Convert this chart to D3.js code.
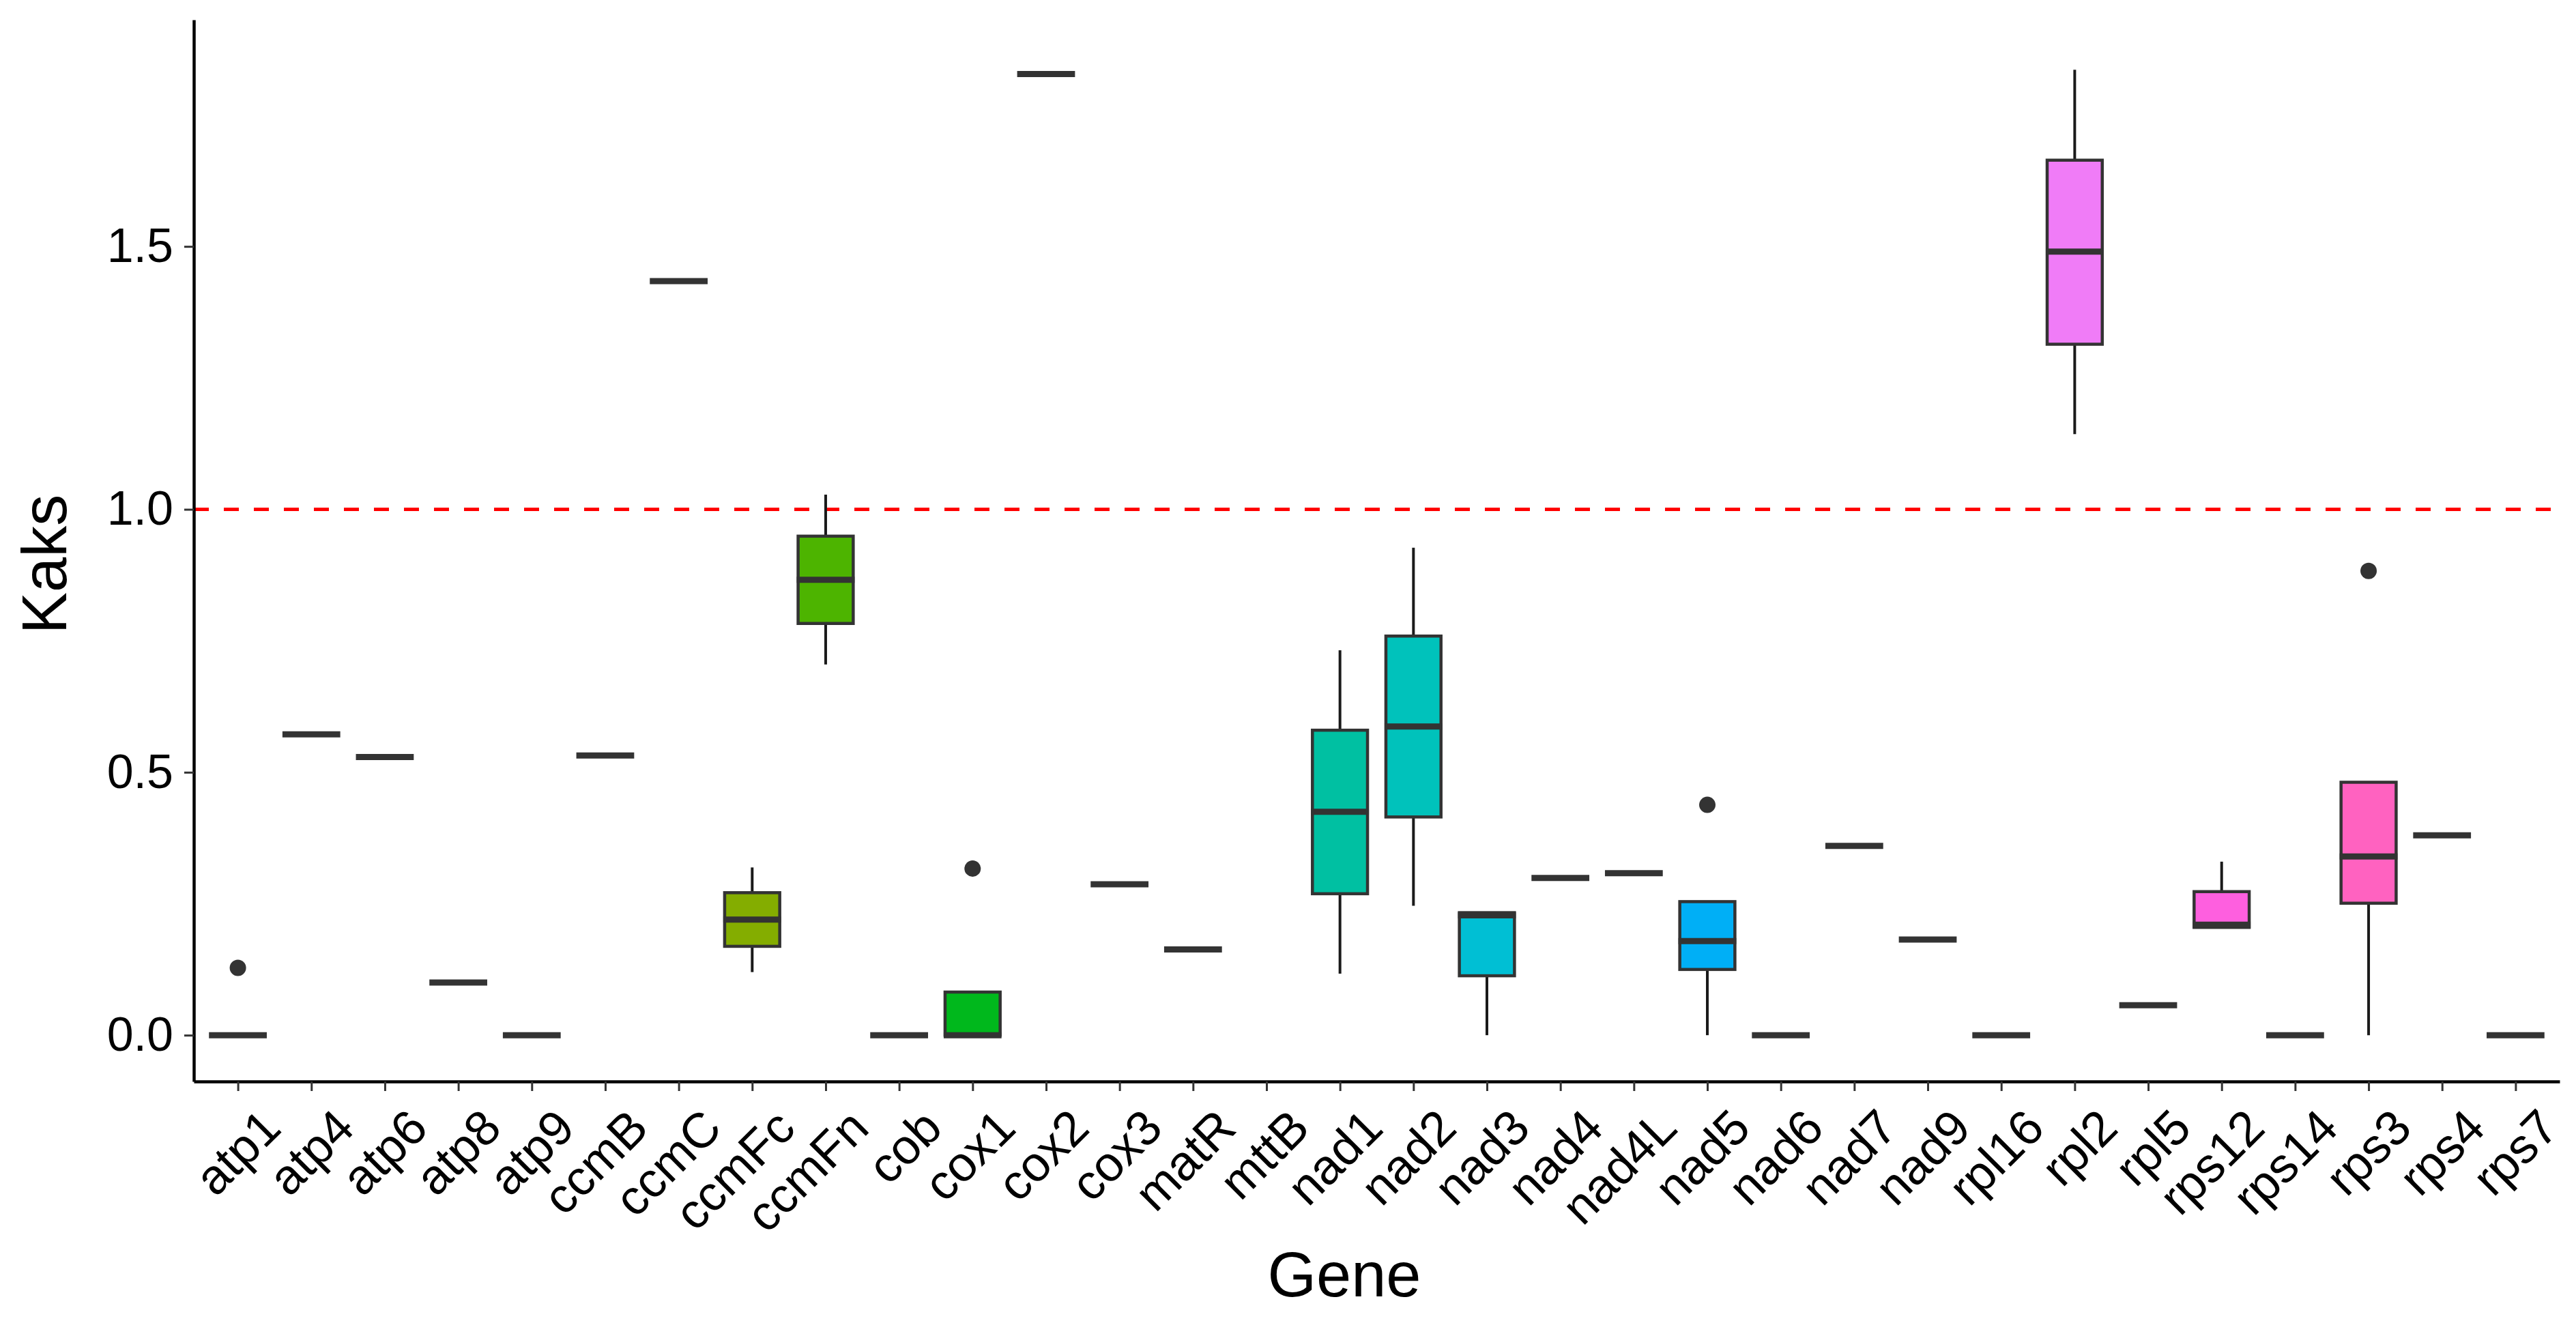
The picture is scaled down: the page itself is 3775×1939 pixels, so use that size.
<!DOCTYPE html>
<html>
<head>
<meta charset="utf-8">
<script src="https://cdn.jsdelivr.net/npm/d3@7"></script>
<style>
  body { margin: 0; background: #fff; }
  text { font-family: "Liberation Sans", Arial, sans-serif; }
</style>
</head>
<body>
<div class="chart"></div>
<script>
// box stats (null = gene has no value)
var genes = ['atp1', 'atp4', 'atp6', 'atp8', 'atp9', 'ccmB', 'ccmC', 'ccmFc', 'ccmFn', 'cob',
  'cox1', 'cox2', 'cox3', 'matR', 'mttB', 'nad1', 'nad2', 'nad3', 'nad4', 'nad4L',
  'nad5', 'nad6', 'nad7', 'nad9', 'rpl16', 'rpl2', 'rpl5', 'rps12', 'rps14', 'rps3', 'rps4', 'rps7'];

var lower  = [0, 0.572, 0.529, 0.100, 0, 0.532, 1.434, 0.120, 0.705, 0,
  0, 1.828, 0.287, 0.163, null, 0.117, 0.246, 0, 0.299, 0.308,
  0, 0, 0.360, 0.182, 0, 1.143, 0.057, 0.205, 0, 0, 0.380, 0];
var q1     = [0, 0.572, 0.529, 0.100, 0, 0.532, 1.434, 0.169, 0.783, 0,
  0, 1.828, 0.287, 0.163, null, 0.269, 0.415, 0.113, 0.299, 0.308,
  0.125, 0, 0.360, 0.182, 0, 1.314, 0.057, 0.205, 0, 0.251, 0.380, 0];
var median = [0, 0.572, 0.529, 0.100, 0, 0.532, 1.434, 0.220, 0.866, 0,
  0, 1.828, 0.287, 0.163, null, 0.425, 0.587, 0.228, 0.299, 0.308,
  0.179, 0, 0.360, 0.182, 0, 1.490, 0.057, 0.210, 0, 0.340, 0.380, 0];
var q3     = [0, 0.572, 0.529, 0.100, 0, 0.532, 1.434, 0.271, 0.949, 0,
  0.082, 1.828, 0.287, 0.163, null, 0.580, 0.759, 0.233, 0.299, 0.308,
  0.254, 0, 0.360, 0.182, 0, 1.664, 0.057, 0.273, 0, 0.481, 0.380, 0];
var upper  = [0, 0.572, 0.529, 0.100, 0, 0.532, 1.434, 0.319, 1.028, 0,
  0.082, 1.828, 0.287, 0.163, null, 0.732, 0.927, 0.233, 0.299, 0.308,
  0.254, 0, 0.360, 0.182, 0, 1.836, 0.057, 0.330, 0, 0.481, 0.380, 0];

var outlierGenes  = ['atp1', 'cox1', 'nad5', 'rps3'];
var outlierValues = [0.128, 0.317, 0.438, 0.883];

var yTicks = [0, 0.5, 1.0, 1.5];
var threshold = 1;

var fills = {
  ccmFc: '#84ad00', ccmFn: '#4db400', cox1: '#00b81c', nad1: '#00c0a2',
  nad2: '#00c2bb', nad3: '#00bfd4', nad5: '#00aff6', rpl2: '#f07cf7',
  rps12: '#fe5fdf', rps3: '#ff62c0'
};

var w = 3775, h = 1939;
var mLeft = 284, mRight = 3751, mTop = 29, mBottom = 1585;

var svg = d3.select('.chart').append('svg')
  .attr('width', w)
  .attr('height', h);

var x = d3.scalePoint()
  .domain(genes)
  .range([mLeft, mRight])
  .padding(0.6);

var y = d3.scaleLinear()
  .domain([-0.088, 1.931])
  .range([mBottom, mTop]);

var boxW = x.step() * 0.75;

var rows = genes.map(function (g, i) {
  return { gene: g, lo: lower[i], q1: q1[i], med: median[i], q3: q3[i], hi: upper[i] };
}).filter(function (d) { return d.med !== null; });

// threshold line
svg.append('line')
  .attr('x1', mLeft).attr('x2', mRight)
  .attr('y1', y(threshold)).attr('y2', y(threshold))
  .attr('stroke', '#ff0000')
  .attr('stroke-width', 5)
  .attr('stroke-dasharray', '22,22');

var g = svg.append('g');

// whiskers
g.selectAll('.wh-up')
  .data(rows.filter(function (d) { return d.hi > d.q3; }))
  .enter().append('line')
  .attr('x1', function (d) { return x(d.gene); })
  .attr('x2', function (d) { return x(d.gene); })
  .attr('y1', function (d) { return y(d.q3); })
  .attr('y2', function (d) { return y(d.hi); })
  .attr('stroke', '#1a1a1a').attr('stroke-width', 4);

g.selectAll('.wh-lo')
  .data(rows.filter(function (d) { return d.lo < d.q1; }))
  .enter().append('line')
  .attr('x1', function (d) { return x(d.gene); })
  .attr('x2', function (d) { return x(d.gene); })
  .attr('y1', function (d) { return y(d.q1); })
  .attr('y2', function (d) { return y(d.lo); })
  .attr('stroke', '#1a1a1a').attr('stroke-width', 4);

// boxes
g.selectAll('.box')
  .data(rows.filter(function (d) { return d.q3 > d.q1; }))
  .enter().append('rect')
  .attr('x', function (d) { return x(d.gene) - boxW / 2; })
  .attr('y', function (d) { return y(d.q3); })
  .attr('width', boxW)
  .attr('height', function (d) { return y(d.q1) - y(d.q3); })
  .attr('fill', function (d) { return fills[d.gene] || '#999'; })
  .attr('stroke', '#333333')
  .attr('stroke-width', 4.5);

// medians
g.selectAll('.med')
  .data(rows)
  .enter().append('line')
  .attr('x1', function (d) { return x(d.gene) - boxW / 2 - 2; })
  .attr('x2', function (d) { return x(d.gene) + boxW / 2 + 2; })
  .attr('y1', function (d) { return y(d.med); })
  .attr('y2', function (d) { return y(d.med); })
  .attr('stroke', '#333333')
  .attr('stroke-width', 9);

// outliers
g.selectAll('.out')
  .data(outlierGenes)
  .enter().append('circle')
  .attr('cx', function (d) { return x(d); })
  .attr('cy', function (d, i) { return y(outlierValues[i]); })
  .attr('r', 12)
  .attr('fill', '#333333');

// axes
var yAxis = svg.append('g')
  .attr('transform', 'translate(' + mLeft + ',0)')
  .call(d3.axisLeft(y).tickValues(yTicks).tickFormat(d3.format('.1f')).tickSize(14).tickSizeOuter(0).tickPadding(16));
yAxis.select('.domain').attr('stroke', '#000').attr('stroke-width', 4.5);
yAxis.selectAll('.tick line').attr('stroke', '#333').attr('stroke-width', 3);
yAxis.selectAll('text').attr('font-size', 70).attr('fill', '#000')
  .style('font-family', '"Liberation Sans", Arial, sans-serif');

var xAxis = svg.append('g')
  .attr('transform', 'translate(0,' + mBottom + ')')
  .call(d3.axisBottom(x).tickSize(14).tickSizeOuter(0));
xAxis.select('.domain').attr('stroke', '#000').attr('stroke-width', 4.5);
xAxis.selectAll('.tick line').attr('stroke', '#333').attr('stroke-width', 3);
xAxis.selectAll('text')
  .attr('x', 0).attr('y', 0).attr('dy', 0)
  .attr('transform', 'translate(66,72) rotate(-45)')
  .attr('text-anchor', 'end')
  .attr('font-size', 72).attr('fill', '#000')
  .style('font-family', '"Liberation Sans", Arial, sans-serif');

// titles
svg.append('text')
  .attr('transform', 'translate(97,827) rotate(-90)')
  .attr('text-anchor', 'middle')
  .attr('font-size', 92)
  .text('Kaks');

svg.append('text')
  .attr('x', 1970).attr('y', 1900)
  .attr('text-anchor', 'middle')
  .attr('font-size', 92)
  .text('Gene');
</script>
</body>
</html>
